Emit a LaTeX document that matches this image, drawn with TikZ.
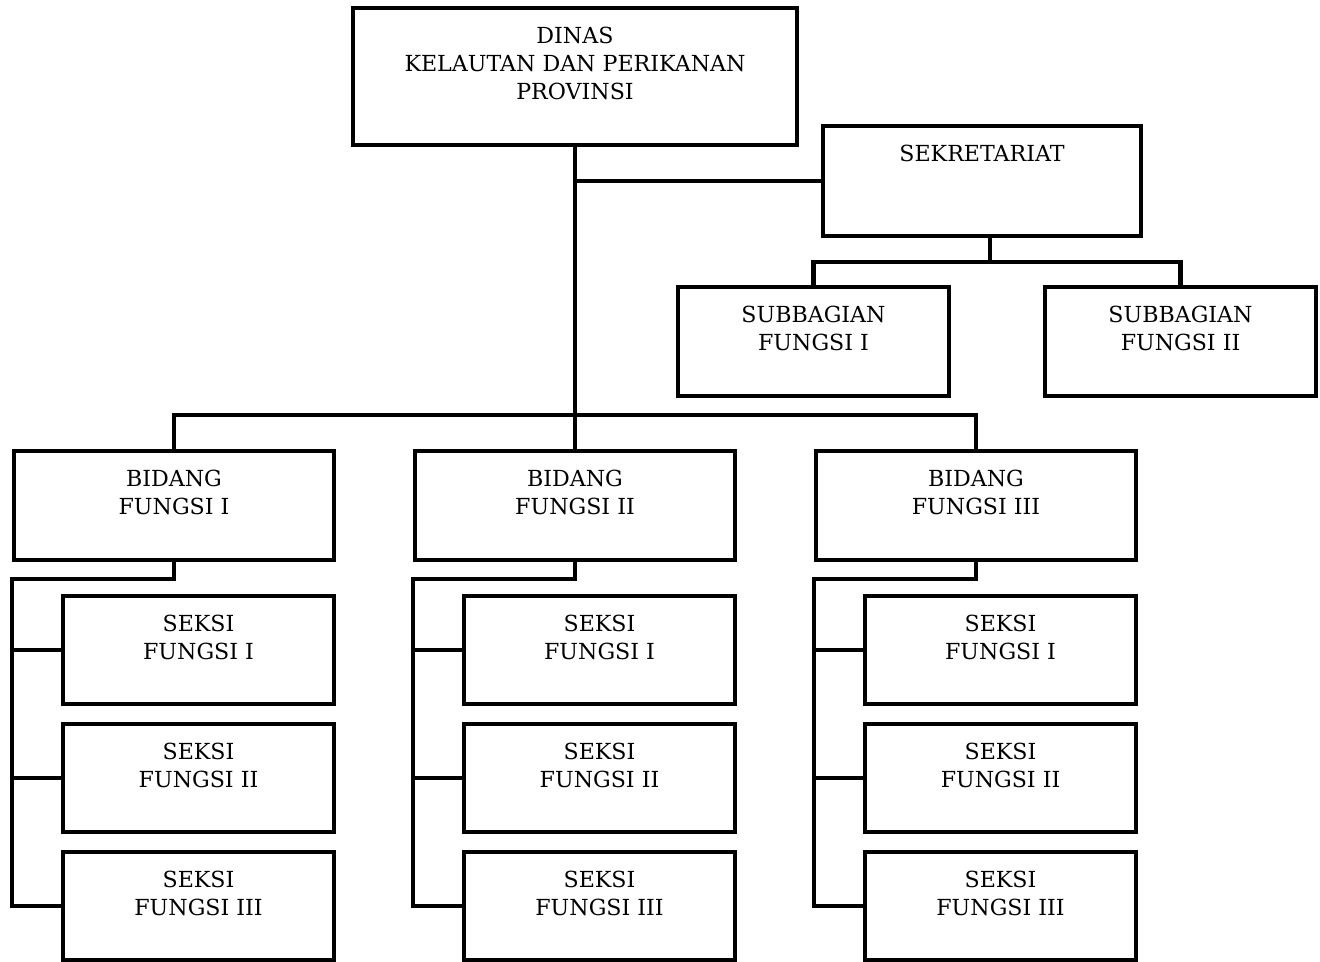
\documentclass[tikz,border=0pt]{standalone}
\usepackage{fontspec}
\setmainfont{DejaVu Serif}
\usetikzlibrary{positioning}
\tikzset{
	box/.style={draw, line width=2.3pt, inner sep=0pt},
	txt/.style={align=center, anchor=north, inner sep=0pt, font=\fontsize{12.6}{16}\selectfont},
	link/.style={line width=2.3pt},
}
\begin{document}
\begin{tikzpicture}[x=0.02cm, y=-0.02cm]
	\useasboundingbox (0, 0) rectangle (1320, 962);
	\node[box, minimum width=8.88cm, minimum height=2.74cm] (dinas) at (575, 76.5) {};
	\node[txt, below=0.42cm of dinas.north] {DINAS\\KELAUTAN DAN PERIKANAN\\PROVINSI};
	\node[box, minimum width=6.38cm, minimum height=2.2cm] (sek) at (982, 181) {};
	\node[txt, below=0.42cm of sek.north] {SEKRETARIAT};
	\node[box, minimum width=5.42cm, minimum height=2.18cm] (sub1) at (813.5, 341.5) {};
	\node[txt, below=0.42cm of sub1.north] {SUBBAGIAN\\FUNGSI I};
	\node[box, minimum width=5.42cm, minimum height=2.18cm] (sub2) at (1180.5, 341.5) {};
	\node[txt, below=0.42cm of sub2.north] {SUBBAGIAN\\FUNGSI II};
	\foreach \c/\x/\r in {1/174/I, 2/575/II, 3/976/III} {
		\node[box, minimum width=6.4cm, minimum height=2.18cm] (bid\c) at (\x, 505.5) {};
		\node[txt, below=0.42cm of bid\c.north] {BIDANG\\FUNGSI \r};
		\foreach \s/\y/\q in {1/650/I, 2/778/II, 3/906/III} {
			\node[box, minimum width=5.42cm, minimum height=2.16cm] (seksi\c\s) at (\x+24.5, \y) {};
			\node[txt, below=0.42cm of seksi\c\s.north] {SEKSI\\FUNGSI \q};
		}
		\draw[link] (bid\c.south) -- ++(0, 17) -| (bid\c.west |- seksi\c3.west) -- (seksi\c3.west);
		\draw[link] (bid\c.west |- seksi\c1.west) -- (seksi\c1.west);
		\draw[link] (bid\c.west |- seksi\c2.west) -- (seksi\c2.west);
	}
	\coordinate (bus) at (575, 415);
	\coordinate (subbus) at (990, 262);
	\draw[link] (dinas.south) -- (bus);
	\draw[link] (bid1.north) |- (bus) -| (bid3.north);
	\draw[link] (bus) -- (bid2.north);
	\draw[link] (dinas.south |- sek.west) -- (sek.west);
	\draw[link] (sek.south -| subbus) -- (subbus);
	\draw[link] (sub1.north) |- (subbus) -| (sub2.north);
\end{tikzpicture}
\end{document}
